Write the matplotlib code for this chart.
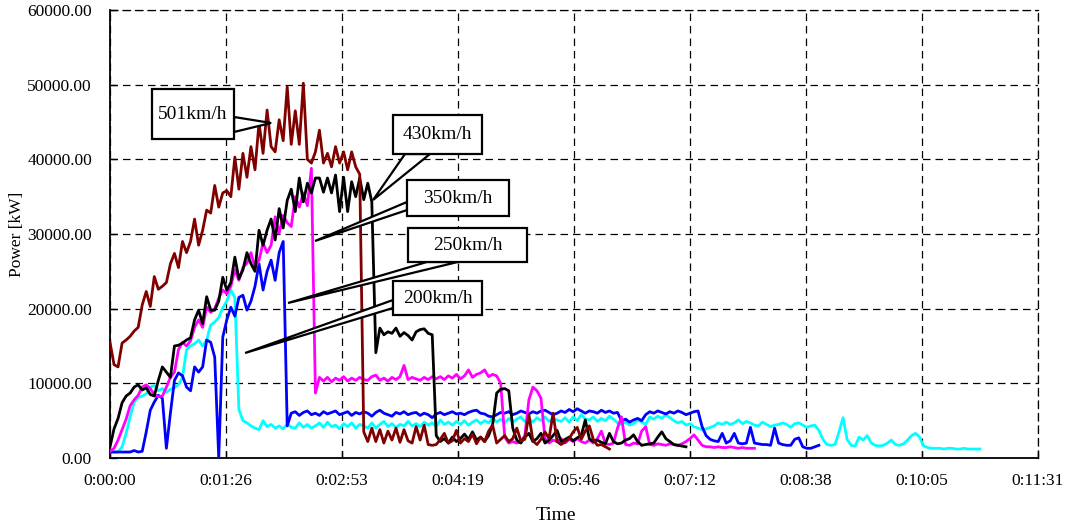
import matplotlib
matplotlib.use("Agg")
import matplotlib.pyplot as plt
import numpy as np
from matplotlib.patches import Polygon, Rectangle
from matplotlib.ticker import FuncFormatter, MultipleLocator

plt.rcParams["font.family"] = ["Liberation Serif", "DejaVu Serif"]

# ==================== 数据 ====================
STEP = 3.0  # 采样间隔 [s]

# 200km/h
power_200 = [
    800, 800, 800, 1500, 3300, 5500, 7500, 8100, 8300, 8600,
    9500, 9700, 9000, 9300, 8800, 9200, 9400, 9800, 10800, 14500,
    15000, 15300, 15800, 15000, 15800, 17800, 18200, 18800, 20100, 21000,
    22500, 21500, 6500, 5000, 4700, 4300, 4000, 3800, 5000, 4200,
    4500, 4000, 4300, 3900, 4600, 4100, 4000, 4700, 4100, 4500,
    4000, 4300, 4700, 4100, 4800, 4200, 4400, 3900, 4600, 4200,
    4700, 4000, 4500, 4300, 4000, 4700, 4000, 4500, 4900, 4200,
    4600, 4100, 4500, 4300, 4900, 4300, 4600, 4200, 4800, 4400,
    4700, 4200, 5100, 4500, 4800, 4400, 4900, 4500, 5000, 4400,
    4800, 5100, 4600, 5000, 4700, 5400, 4800, 5200, 4700, 5300,
    4800, 5200, 5500, 4900, 5300, 4800, 5400, 5000, 5500, 4900,
    5300, 5100, 4900, 5400, 4800, 5500, 5000, 5800, 5200, 5100,
    5500, 4900, 5300, 5000, 5600, 5200, 4700, 4500, 4800, 4400,
    4600, 5100, 4800, 4500, 5500, 5200, 5600, 5300, 5800, 5400,
    5000, 4700, 4900, 4400, 4600, 4200, 4000, 3800, 3900, 4100,
    4300, 4700, 4500, 4800, 4500, 4700, 5100, 4600, 4900, 4700,
    4400, 4300, 4800, 4500, 4200, 4400, 4500, 4700, 4500, 4100,
    4600, 4700, 4400, 4100, 4300, 4400, 3700, 2500, 1800, 1700,
    1800, 3500, 5400, 2500, 1700, 1600, 2800, 2400, 3000, 2000,
    1700, 1600, 1700, 2000, 2400, 1800, 1700, 1900, 2400, 3000,
    3300, 2800, 1600, 1400, 1300, 1300, 1300, 1200, 1300, 1300,
    1200, 1200, 1300, 1200, 1200, 1200, 1200,
]

# 250km/h
power_250 = [
    800, 800, 800, 800, 800, 800, 1000, 800, 900, 3500,
    6400, 7500, 8400, 8000, 1300, 6000, 10400, 11400, 11000, 9500,
    9000, 12200, 11500, 12200, 15800, 15500, 13500, 0, 16200, 18500,
    20200, 19000, 21500, 21800, 19800, 21000, 23000, 26000, 22500, 25000,
    26500, 23800, 27500, 29000, 4300, 6000, 6200, 5700, 6100, 6300,
    5800, 6000, 5700, 6200, 5900, 6100, 6300, 5800, 6000, 6200,
    5700, 6100, 5900, 6200, 6000, 5600, 6100, 6400, 6000, 5800,
    5600, 6100, 5900, 6200, 5800, 6000, 6100, 5700, 6000, 5800,
    5400, 5900, 6100, 5800, 6000, 6200, 5900, 6000, 5800, 6100,
    6300, 6400, 6000, 5900, 5600, 5500, 5800, 6100, 6000, 6200,
    5800, 6000, 6300, 6100, 5900, 6200, 6000, 6300, 6400, 6100,
    5800, 6000, 6300, 6100, 6500, 6200, 6600, 6300, 6000, 6300,
    6200, 6000, 6400, 6100, 6300, 6000, 6100, 5000, 5200, 4800,
    5100, 5300, 5000, 5800, 6200, 6000, 6300, 6100, 5900, 6200,
    6000, 6300, 6100, 5800, 6000, 6200, 6300, 4200, 3000, 2500,
    2300, 2200, 3300, 2000, 2300, 3300, 2000, 1900, 2000, 4100,
    2000, 1900, 1800, 1800, 1700, 4000, 2000, 1800, 1700, 1700,
    2500, 2700, 1500, 1300, 1300, 1500, 1700,
]

# 350km/h
power_350 = [
    900, 1300, 2400, 3800, 5200, 7000, 7800, 8400, 9500, 9800,
    9300, 8500, 8200, 8300, 9500, 10800, 11500, 14500, 15500, 15000,
    15700, 17500, 18500, 17500, 20200, 19500, 20000, 21400, 22500, 22000,
    23000, 25200, 23800, 25500, 26100, 27500, 25500, 26500, 28800, 27500,
    28500, 32300, 30100, 32500, 31500, 31000, 35000, 33600, 35500, 33800,
    38800, 8700, 10800, 10300, 10800, 10200, 10700, 10400, 10900, 10300,
    10700, 10400, 10800, 10500, 10400, 10900, 11100, 10400, 10700, 10300,
    10800, 10500, 10900, 12400, 10500, 10800, 10600, 10400, 10800, 10500,
    10900, 10600, 10900, 10500, 11000, 10700, 11200, 10600, 11000, 11800,
    10800, 11200, 11400, 11800, 10900, 11200, 11000, 10000, 2800, 2000,
    2200, 2000, 2200, 3000, 7800, 9500, 9000, 8000, 2600, 2000,
    2400, 2200, 2600, 2000, 2500, 2200, 2600, 2200, 2000, 2400,
    2000, 2600, 3600, 1900, 1800, 2000, 4000, 5500, 1800, 1700,
    2000, 1900, 3600, 4200, 1800, 1700, 1900, 1800, 1700, 1900,
    1800, 1700, 1900, 2200, 2600, 3100, 2400, 1700, 1500, 1500,
    1400, 1500, 1400, 1400, 1500, 1400, 1300, 1400, 1300, 1300,
    1300,
]

# 430km/h
power_430 = [
    1500, 3900, 5300, 7400, 8300, 8700, 9500, 9800, 9100, 9400,
    8500, 8300, 10400, 12200, 11500, 10800, 15000, 15100, 15400, 15800,
    16100, 18500, 19800, 18000, 21600, 19800, 19800, 21000, 24200, 22500,
    23500, 26900, 24000, 25200, 27500, 26000, 25000, 30500, 28500, 30500,
    32000, 29200, 33400, 30800, 34500, 36000, 33000, 37500, 34300, 36800,
    35500, 37500, 37500, 35600, 37500, 35500, 37900, 33000, 37600, 33000,
    37000, 35000, 37500, 34600, 36800, 34300, 14100, 17400, 16500, 16900,
    16700, 17400, 16300, 16800, 16400, 15800, 16900, 17200, 17300, 16700,
    16500, 3000, 2200, 2600, 2000, 2800, 2200, 2600, 3200, 2500,
    3500, 2400, 2800, 2200, 3000, 4500, 8700, 9200, 9300, 9000,
    4000, 2400, 2000, 2800, 3300, 2200, 2600, 3300, 2000, 2400,
    3000, 3700, 2200, 2500, 2800, 2300, 2700, 3000, 5100, 2600,
    2200, 2400, 2100, 1900, 3300, 2200, 1900, 2000, 2400, 2600,
    3100, 2200, 1700, 1800, 1900, 2000, 2800, 3500, 2600, 2200,
    1800, 1700, 1600, 1500,
]

# 501km/h
power_501 = [
    15500, 12500, 12200, 15400, 15800, 16300, 17000, 17500, 20500, 22300,
    20300, 24300, 22600, 23000, 23500, 26000, 27400, 25500, 29000, 27500,
    29000, 32000, 28500, 30500, 33200, 32800, 36500, 33600, 35500, 35800,
    35000, 40300, 36000, 40800, 37600, 41700, 38600, 44900, 40800, 46600,
    41700, 41000, 45300, 42500, 49700, 42000, 46500, 42000, 50200, 40000,
    39500, 41000, 43900, 39500, 40800, 39000, 41700, 39500, 41000, 38600,
    41000, 39000, 38000, 3500, 2200, 4000, 2200, 3800, 2000, 3600,
    2400, 4000, 2100, 3800, 2300, 2000, 4200, 2400, 4400, 1800,
    1700, 1800, 2500, 3300, 2000, 2300, 3700, 2000, 2600, 2200,
    3200, 1900, 2800, 2200, 3600, 4400, 2000, 2500, 3000, 2200,
    2600, 4000, 2300, 2500, 5800, 2300, 1800, 2500, 3500, 2600,
    6000, 2200, 1800, 2200, 2600, 3500, 4100, 2500, 3600, 4300,
    2500, 1700, 1800, 1500, 1200,
]

SERIES = [
    ("200km/h", power_200, "#00FFFF"),
    ("250km/h", power_250, "#0000FF"),
    ("350km/h", power_350, "#FF00FF"),
    ("430km/h", power_430, "#000000"),
    ("501km/h", power_501, "#800000"),
]

# 标注框：(文字, 框 [t0, t1, p0, p1], 楔形底边两点, 指向点)
CALLOUTS = [
    ("501km/h", (31.3, 92.4, 42720, 49420), [(92.4, 45670), (92.4, 43660)], (120.0, 44870)),
    ("430km/h", (210.8, 277.1, 40710, 45940), [(219.7, 40710), (238.3, 40710)], (195.9, 34550)),
    ("350km/h", (221.2, 297.2, 32410, 37230), [(221.2, 34290), (221.2, 33210)], (152.7, 29060)),
    ("250km/h", (222.0, 310.6, 26250, 30800), [(236.0, 26250), (259.0, 26250)], (132.6, 20760)),
    ("200km/h", (210.8, 277.1, 19150, 23700), [(210.8, 21160), (210.8, 20090)], (100.6, 14060)),
]

X_MAX = 691.2  # 0:11:31
X_STEP = 86.4  # 0.001 天


def fmt_time(sec, _pos=None):
    s = int(round(sec))
    return f"{s // 3600}:{(s % 3600) // 60:02d}:{s % 60:02d}"


def draw_callout(ax, text, box, base, tip):
    t0, t1, p0, p1 = box
    wedge = Polygon([base[0], tip, base[1]], closed=True, facecolor="white",
                    edgecolor="black", linewidth=1.6, zorder=5, joinstyle="miter")
    ax.add_patch(wedge)
    rect = Rectangle((t0, p0), t1 - t0, p1 - p0, facecolor="white",
                     edgecolor="black", linewidth=1.6, zorder=6)
    ax.add_patch(rect)
    ax.text((t0 + t1) / 2, (p0 + p1) / 2, text, ha="center", va="center",
            fontsize=14, zorder=7)


def main():
    fig = plt.figure(figsize=(10.65, 5.3), dpi=100)
    ax = fig.add_axes([110 / 1065, 72 / 530, 928 / 1065, 448 / 530])

    for name, values, color in SERIES:
        t = np.arange(len(values)) * STEP
        ax.plot(t, values, color=color, linewidth=2.0, label=name, zorder=3)

    for text, box, base, tip in CALLOUTS:
        draw_callout(ax, text, box, base, tip)

    ax.set_xlim(0, X_MAX)
    ax.set_ylim(0, 60000)
    ax.xaxis.set_major_locator(MultipleLocator(X_STEP))
    ax.xaxis.set_major_formatter(FuncFormatter(fmt_time))
    ax.yaxis.set_major_locator(MultipleLocator(10000))
    ax.yaxis.set_major_formatter(FuncFormatter(lambda v, _p: f"{v:.2f}"))

    ax.grid(True, color="black", linestyle=(0, (6, 4)), linewidth=0.9, zorder=1)
    ax.set_axisbelow(True)
    for side in ["top", "right"]:
        ax.spines[side].set_linestyle((0, (6, 4)))
        ax.spines[side].set_linewidth(0.9)
    for side in ["left", "bottom"]:
        ax.spines[side].set_linewidth(1.3)

    ax.tick_params(axis="both", direction="in", length=5, width=1, labelsize=12.5)
    ax.tick_params(axis="y", pad=13)
    ax.tick_params(axis="x", pad=11)

    ax.set_xlabel("Time", fontsize=14)
    ax.xaxis.set_label_coords(0.48, -0.11)
    ax.set_ylabel("Power [kW]", fontsize=12.5)
    ax.yaxis.set_label_coords(-0.092, 0.5)

    fig.savefig("out.png", dpi=100)
    plt.close(fig)


if __name__ == "__main__":
    main()
